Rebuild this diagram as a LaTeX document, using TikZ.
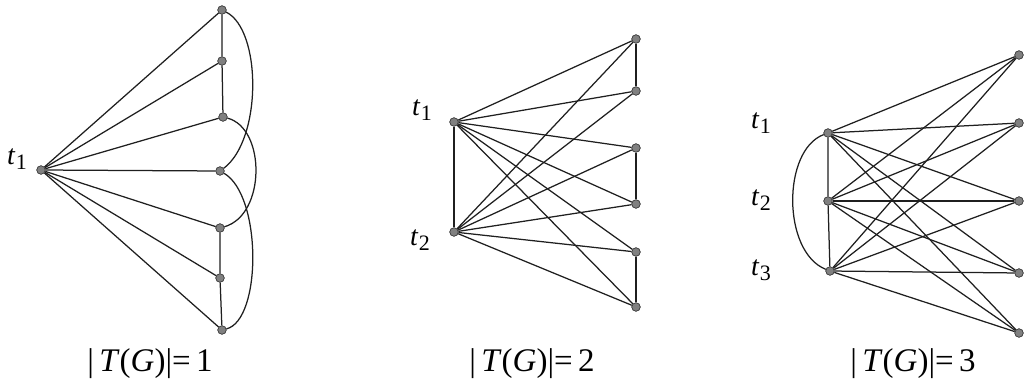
\documentclass[tikz,border=0pt]{standalone}
\usepackage{fontspec}
\setmainfont{Liberation Serif}
\newcommand{\tlab}[1]{\textit{t}\kern0.5pt\raisebox{-0.35ex}{\fontsize{22}{22}\selectfont #1}}
\newcommand{\capt}[1]{|\thinspace\textit{T}(\textit{G})|=\thinspace#1}
\tikzset{
  vtx/.style={circle,draw=black!75,fill=black!50,line width=0.6pt,inner sep=0pt,minimum size=8.5pt},
  edge/.style={draw=black!88,line width=1.25pt},
  lab/.style={font=\fontsize{28}{28}\selectfont,inner sep=0pt},
  captn/.style={font=\fontsize{33}{33}\selectfont,inner sep=0pt}
}
\begin{document}
\begin{tikzpicture}[x=1pt,y=-1pt]
\useasboundingbox (0,0) rectangle (1028,388);
% ---------- graph 1
\node[vtx] (a0) at (41,170) {};
\node[vtx] (a1) at (222,10) {};
\node[vtx] (a2) at (222,61) {};
\node[vtx] (a3) at (223,117) {};
\node[vtx] (a4) at (220,171) {};
\node[vtx] (a5) at (220,228) {};
\node[vtx] (a6) at (220,278) {};
\node[vtx] (a7) at (222,330) {};
\node[lab] (la) at (17,159) {\tlab{1}};
\foreach \i in {1,...,7} \draw[edge] (a0) -- (a\i);
\draw[edge] (a1) -- (a2) -- (a3);
\draw[edge] (a5) -- (a6) -- (a7);
\draw[edge] (a1) .. controls (262,30) and (262,140) .. (a4);
\draw[edge] (a3) .. controls (266,128) and (266,215) .. (a5);
\draw[edge] (a4) .. controls (262,195) and (262,320) .. (a7);
\node[captn] (ca) at (150,364) {\capt{1}};
% ---------- graph 2
\node[vtx] (b1) at (454,122) {};
\node[vtx] (b2) at (454,232) {};
\node[vtx] (c1) at (636,39) {};
\node[vtx] (c2) at (636,91) {};
\node[vtx] (c3) at (636,148) {};
\node[vtx] (c4) at (636,204) {};
\node[vtx] (c5) at (636,252) {};
\node[vtx] (c6) at (636,307) {};
\node[lab] (lb1) at (422,110) {\tlab{1}};
\node[lab] (lb2) at (420,240) {\tlab{2}};
\draw[edge] (b1) -- (b2);
\draw[edge] (c1) -- (c2);
\draw[edge] (c3) -- (c4);
\draw[edge] (c5) -- (c6);
\foreach \i in {1,2} \foreach \j in {1,...,6} \draw[edge] (b\i) -- (c\j);
\node[captn] (cb) at (532,364) {\capt{2}};
% ---------- graph 3
\node[vtx] (d1) at (828,133) {};
\node[vtx] (d2) at (828,201) {};
\node[vtx] (d3) at (830,271) {};
\node[vtx] (e1) at (1019,55) {};
\node[vtx] (e2) at (1019,123) {};
\node[vtx] (e3) at (1019,201) {};
\node[vtx] (e4) at (1019,273) {};
\node[vtx] (e5) at (1019,333) {};
\node[lab] (ld1) at (761,123) {\tlab{1}};
\node[lab] (ld2) at (761,200) {\tlab{2}};
\node[lab] (ld3) at (761,270) {\tlab{3}};
\draw[edge] (d1) -- (d2) -- (d3);
\draw[edge] (d1) .. controls (782,150) and (782,252) .. (d3);
\foreach \i in {1,2,3} \foreach \j in {1,...,5} \draw[edge] (d\i) -- (e\j);
\node[captn] (cc) at (913,364) {\capt{3}};
% redraw vertices on top
\foreach \n in {a0,a1,a2,a3,a4,a5,a6,a7,b1,b2,c1,c2,c3,c4,c5,c6,d1,d2,d3,e1,e2,e3,e4,e5}
  \fill[black!50,draw=black!75,line width=0.6pt] (\n) circle (4.2pt);
\end{tikzpicture}
\end{document}
